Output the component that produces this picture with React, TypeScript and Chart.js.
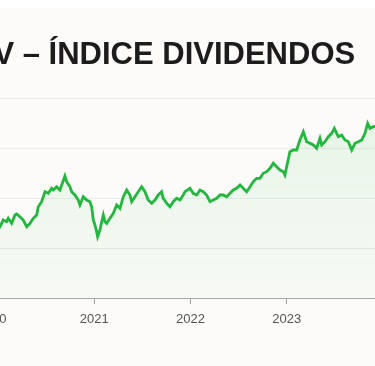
import React, { useEffect, useRef } from 'react';
import { Chart, registerables } from 'chart.js';
Chart.register(...registerables);

const TITLE = 'IDIV – ÍNDICE DIVIDENDOS';

// decimal-year dates of each observation
const dates = [
  2019.937, 2019.98, 2020.02, 2020.054, 2020.089, 2020.106, 2020.141, 2020.176, 2020.193, 2020.228,
  2020.262, 2020.297, 2020.332, 2020.366, 2020.401, 2020.418, 2020.453, 2020.488, 2020.522, 2020.557,
  2020.574, 2020.609, 2020.643, 2020.695, 2020.713, 2020.747, 2020.765, 2020.799, 2020.834, 2020.851,
  2020.886, 2020.921, 2020.955, 2020.973, 2020.99, 2021.007, 2021.025, 2021.035, 2021.059, 2021.077,
  2021.094, 2021.111, 2021.129, 2021.163, 2021.198, 2021.233, 2021.267, 2021.302, 2021.337, 2021.371,
  2021.389, 2021.423, 2021.457, 2021.493, 2021.527, 2021.561, 2021.597, 2021.631, 2021.665, 2021.7,
  2021.717, 2021.753, 2021.787, 2021.821, 2021.857, 2021.891, 2021.925, 2021.943, 2021.995, 2022.029,
  2022.064, 2022.099, 2022.133, 2022.168, 2022.203, 2022.237, 2022.272, 2022.307, 2022.341, 2022.376,
  2022.411, 2022.445, 2022.48, 2022.515, 2022.549, 2022.584, 2022.619, 2022.653, 2022.688, 2022.722,
  2022.757, 2022.792, 2022.826, 2022.861, 2022.896, 2022.931, 2022.965, 2022.982, 2023.0, 2023.034,
  2023.069, 2023.104, 2023.138, 2023.173, 2023.208, 2023.242, 2023.277, 2023.312, 2023.346, 2023.364,
  2023.398, 2023.433, 2023.468, 2023.495, 2023.537, 2023.572, 2023.606, 2023.641, 2023.676, 2023.71,
  2023.745, 2023.78, 2023.814, 2023.842, 2023.866, 2023.901, 2023.936, 2023.97, 2023.991,
];

// index level at each date
const values = [
  6800, 6960, 6852, 7120, 7052, 7188, 6988, 7320, 7360, 7252,
  7120, 6852, 6988, 7188, 7320, 7652, 7852, 8252, 8188, 8388,
  8320, 8452, 8320, 8880, 8652, 8452, 8252, 8120, 7920, 7720,
  8052, 7920, 7852, 7652, 7120, 6920, 6652, 6452, 6720, 7052,
  7320, 7052, 6988, 7188, 7388, 7720, 7588, 8052, 8320, 8120,
  7852, 8052, 8252, 8452, 8252, 7920, 7788, 7920, 8120, 8252,
  7988, 7788, 7652, 7852, 7988, 7920, 8120, 8252, 8388, 8188,
  8120, 8320, 8252, 8120, 7852, 7920, 7988, 8120, 8120, 8052,
  8188, 8320, 8388, 8520, 8388, 8252, 8452, 8652, 8788, 8788,
  8988, 9052, 9188, 9388, 9252, 9120, 9052, 8920, 9252, 9852,
  9920, 9920, 10320, 10652, 10252, 10188, 10120, 9988, 10388, 10120,
  10252, 10452, 10588, 10788, 10452, 10520, 10320, 10252, 9920, 10188,
  10252, 10320, 10588, 10988, 10788, 10852, 10880, 10960, 11000,
];

const yearTicks = [2021, 2022, 2023];
const Y_MIN = 4000;
const Y_MAX = 12000;
const Y_STEP = 2000;

const CW = 478;
const CH = 358;
const FONT = "'Liberation Sans', Arial, Helvetica, sans-serif";

export default function App() {
  const ref = useRef<HTMLCanvasElement>(null);
  useEffect(() => {
    const chart = new Chart(ref.current!, {
      type: 'line',
      data: {
        datasets: [
          {
            data: dates.map((d, i) => ({ x: d, y: values[i] })),
            borderColor: '#21b83d',
            borderWidth: 2.8,
            pointRadius: 0,
            tension: 0,
            fill: 'start',
            backgroundColor: (ctx: any) => {
              const { chart } = ctx;
              const area = chart.chartArea;
              if (!area) return 'rgba(33,184,61,0.06)';
              const g = chart.ctx.createLinearGradient(0, area.top, 0, area.bottom);
              g.addColorStop(0, 'rgba(33,184,61,0.10)');
              g.addColorStop(1, 'rgba(33,184,61,0.02)');
              return g;
            },
          },
        ],
      },
      options: {
        responsive: false,
        animation: false,
        devicePixelRatio: 1,
        layout: { padding: { left: 10, right: 13, top: 0, bottom: 38 } },
        plugins: {
          legend: { display: false },
          tooltip: { enabled: false },
          title: {
            display: true,
            text: TITLE,
            color: '#1c1c1c',
            font: { family: FONT, size: 31, weight: '700' },
            padding: { top: 28.5, bottom: 24.3 },
          },
        },
        scales: {
          x: {
            type: 'linear',
            min: dates[0],
            max: dates[dates.length - 1],
            afterBuildTicks: (s: any) => {
              s.ticks = [dates[0], ...yearTicks].map((v) => ({ value: v }));
            },
            afterFit: (s: any) => {
              s.height = 30;
            },
            ticks: {
              callback: (v: any) => String(Math.round(Number(v))),
              color: '#555555',
              font: { family: FONT, size: 13 },
              padding: 8,
              autoSkip: false,
              maxRotation: 0,
            },
            grid: { display: true, drawOnChartArea: false, drawTicks: true, tickLength: 6, color: '#a0a0a0' },
            border: { display: true, color: '#a8a8a8', width: 1 },
          },
          y: {
            min: Y_MIN,
            max: Y_MAX,
            afterFit: (s: any) => {
              s.width = 65;
            },
            ticks: { stepSize: Y_STEP, color: '#555555', font: { family: FONT, size: 13 } },
            grid: { color: '#ebebeb', drawTicks: false },
            border: { display: false },
          },
        },
      },
    });
    return () => chart.destroy();
  }, []);
  return (
    <div style={{ position: 'fixed', left: 0, top: 0, width: 375, height: 366, overflow: 'hidden', background: '#ffffff' }}>
      <div style={{ position: 'absolute', left: -83, top: 8, width: CW, height: CH, background: '#fcfbf9' }}>
        <canvas ref={ref} width={CW} height={CH} style={{ display: 'block' }} />
      </div>
    </div>
  );
}
